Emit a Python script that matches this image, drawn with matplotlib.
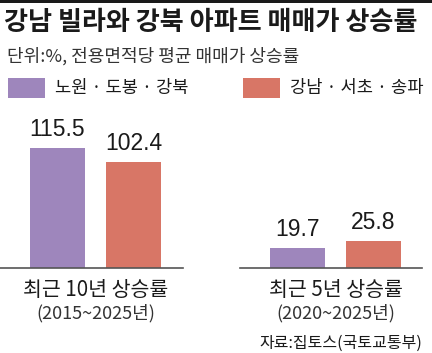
import matplotlib
matplotlib.use('Agg')
import matplotlib.pyplot as plt
from matplotlib.patches import Rectangle

plt.rcParams['font.family'] = ['Noto Sans CJK KR', 'DejaVu Sans']

# data
groups = ['최근 10년 상승률', '최근 5년 상승률']
periods = ['(2015~2025년)', '(2020~2025년)']
series = ['노원 · 도봉 · 강북', '강남 · 서초 · 송파']
gangbuk = [115.5, 19.7]
gangnam = [102.4, 25.8]
colors = ['#9e86bc', '#d87666']

W, H = 432, 353
fig = plt.figure(figsize=(W / 100, H / 100), dpi=100)


def px_axes(x0, y0, x1, y1):
    # pixel box (top-left origin) -> figure axes
    return fig.add_axes([x0 / W, 1 - y1 / H, (x1 - x0) / W, (y1 - y0) / H])


# top rule
fig.add_artist(Rectangle((0, 1 - 3 / H), 1, 3 / H, transform=fig.transFigure,
                         color='#1a1a1a', lw=0))

fig.text(4 / W, 1 - 23 / H, '강남 빌라와 강북 아파트 매매가 상승률', fontsize=18.8,
         fontweight='bold', va='center', ha='left', color='#1a1a1a')
fig.text(7 / W, 1 - 56 / H, '단위:%, 전용면적당 평균 매매가 상승률', fontsize=13,
         va='center', ha='left', color='#333333')

# legend
for lx, name, c in [(8, series[0], colors[0]), (243, series[1], colors[1])]:
    fig.add_artist(Rectangle((lx / W, 1 - 98 / H), 37 / W, 20 / H,
                             transform=fig.transFigure, color=c, lw=0))
    fig.text((lx + 47) / W, 1 - 88 / H, name, fontsize=12.7, va='center',
             ha='left', color='#1a1a1a')

# bar groups
boxes = [(0, 183), (240, 422)]
base_y, top_y = 268, 110
ymax = (base_y - top_y) / 1.04
for i, (x0, x1) in enumerate(boxes):
    ax = px_axes(x0, top_y, x1, base_y)
    vals = [gangbuk[i], gangnam[i]]
    ax.bar([0, 1], vals, width=55 / 76, color=colors)
    for xpos, v in zip([0, 1], vals):
        ax.text(xpos, v + 6.5, f'{v}', ha='center', va='bottom', fontsize=16.5,
                family=['Liberation Sans', 'DejaVu Sans'], color='#1a1a1a')
    ax.set_xlim(-57.5 / 76, (x1 - x0 - 57.5) / 76)
    ax.set_ylim(0, ymax)
    for s in ['top', 'right', 'left']:
        ax.spines[s].set_visible(False)
    ax.spines['bottom'].set_color('#555555')
    ax.spines['bottom'].set_linewidth(1.2)
    ax.set_xticks([])
    ax.set_yticks([])
    ax.patch.set_alpha(0)
    cx = (x0 + 57.5 + 38) / W
    fig.text(cx, 1 - 290 / H, groups[i], fontsize=14.8, fontweight='medium',
             ha='center', va='center', color='#1a1a1a')
    fig.text(cx, 1 - 313 / H, periods[i], fontsize=13, ha='center',
             va='center', color='#333333')

fig.text(422 / W, 1 - 343 / H, '자료:집토스(국토교통부)', fontsize=11.5, ha='right',
         va='center', color='#1a1a1a')

fig.savefig('out.png', dpi=100)
